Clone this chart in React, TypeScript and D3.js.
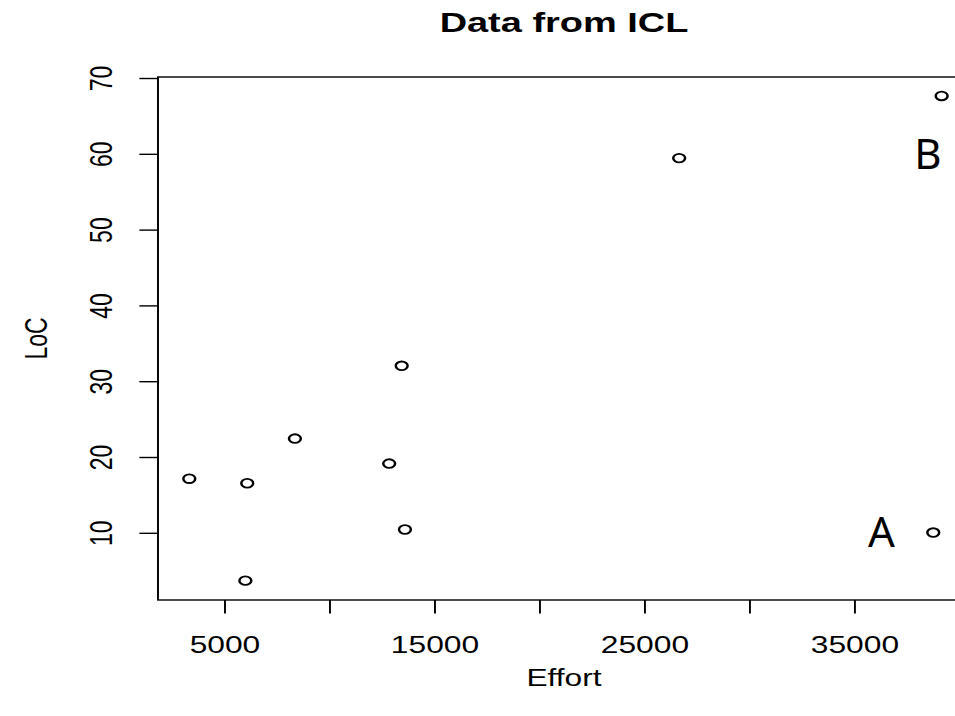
import * as d3 from "d3";

// horizontal stretch seen in the reference (text and markers are wider than tall)
const SX = 1.38;

const effort = [3300, 6060, 8330, 12820, 13570, 5970, 13415, 26630, 39130, 38730];
const locValues = [17.2, 16.6, 22.5, 19.2, 10.5, 3.75, 32.1, 59.5, 67.7, 10.1];

const xTicks = [5000, 10000, 15000, 20000, 25000, 30000, 35000];
const xTickLabels = ["5000", "", "15000", "", "25000", "", "35000"];
const yTicks = [10, 20, 30, 40, 50, 60, 70];

const noteLabels = ["A", "B"];
const noteEffort = [36260, 38480];
const noteLoc = [8.2, 58.1];

const W = 955;
const H = 716;
const font = "'Liberation Sans', Arial, Helvetica, sans-serif";

export default function App() {
  const x = d3.scaleLinear().domain([1810, 40480]).range([158, 970]);
  const y = d3.scaleLinear().domain([1.2, 70.2]).range([600, 77]);
  const [left, right] = x.range();
  const [bottom, top] = y.range();
  const gx = (v: number) => x(v) / SX; // into the stretched group
  const midX = (left + right) / 2;
  const tick = 13.5;

  return (
    <svg
      width={W}
      height={H}
      style={{ position: "absolute", left: 0, top: 0, background: "#fff" }}
    >
      <g transform={`scale(${SX},1)`} fontFamily={font} fill="#000">
        {/* title */}
        <text x={midX / SX} y={32} textAnchor="middle" fontSize={27.5} fontWeight="bold">
          Data from ICL
        </text>

        {/* plot box */}
        <rect
          x={left / SX}
          y={top}
          width={(right - left) / SX}
          height={bottom - top}
          fill="none"
          stroke="#000"
          strokeWidth={1.4}
        />

        {/* x axis */}
        {xTicks.map((t, i) => (
          <g key={t}>
            <line x1={gx(t)} x2={gx(t)} y1={bottom} y2={bottom + tick} stroke="#000" strokeWidth={1.4} />
            {xTickLabels[i] && (
              <text x={gx(t)} y={653} textAnchor="middle" fontSize={23}>
                {xTickLabels[i]}
              </text>
            )}
          </g>
        ))}
        <text x={midX / SX} y={686} textAnchor="middle" fontSize={23}>
          Effort
        </text>

        {/* y axis */}
        {yTicks.map((t) => (
          <g key={t}>
            <line
              x1={left / SX - tick}
              x2={left / SX}
              y1={y(t)}
              y2={y(t)}
              stroke="#000"
              strokeWidth={1.4}
            />
            <text
              transform={`translate(${111.5 / SX},${y(t)}) rotate(-90)`}
              textAnchor="middle"
              fontSize={23}
            >
              {t}
            </text>
          </g>
        ))}
        <text
          transform={`translate(${47 / SX},${(top + bottom) / 2}) rotate(-90)`}
          textAnchor="middle"
          fontSize={23}
        >
          LoC
        </text>

        {/* points */}
        {effort.map((e, i) => (
          <circle
            key={i}
            cx={gx(e)}
            cy={y(locValues[i])}
            r={4.3}
            fill="none"
            stroke="#000"
            strokeWidth={1.8}
          />
        ))}
      </g>

      {/* A / B annotations, not stretched */}
      {noteLabels.map((l, i) => (
        <text
          key={l}
          x={x(noteEffort[i])}
          y={y(noteLoc[i])}
          textAnchor="middle"
          fontSize={42}
          fontFamily="'Noto Sans', 'Open Sans', sans-serif"
          fill="#000"
        >
          {l}
        </text>
      ))}
    </svg>
  );
}
